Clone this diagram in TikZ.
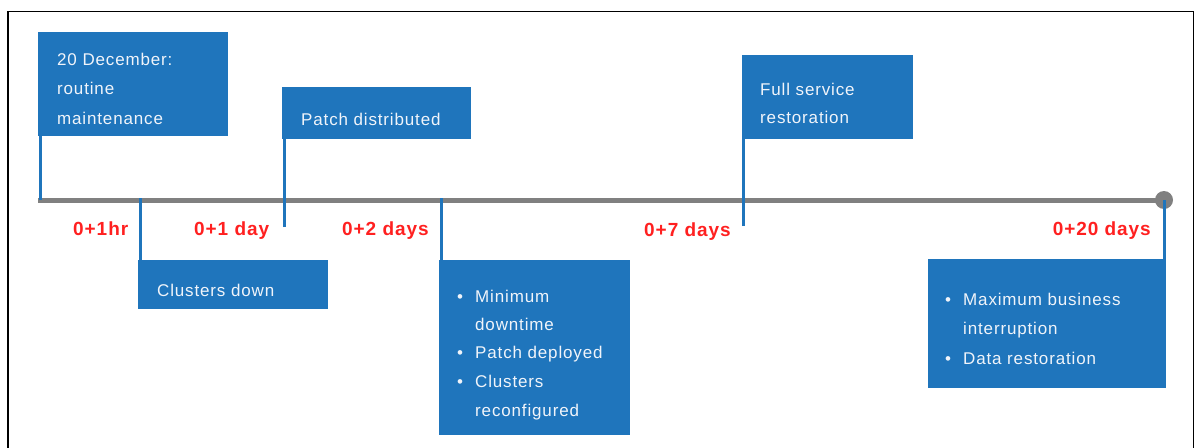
\documentclass[tikz,border=0pt]{standalone}
\usepackage{fontspec}
\setmainfont{Liberation Sans}[LetterSpace=5]
\definecolor{tlblue}{RGB}{31,117,188}
\definecolor{tlgray}{RGB}{128,128,128}
\definecolor{tlred}{RGB}{255,32,32}
\definecolor{tlwhite}{RGB}{240,244,250}
\begin{document}
\begin{tikzpicture}[x=1pt,y=-1pt,
  evbox/.style={fill=tlblue, draw=none, inner sep=0pt, anchor=north west},
  boxtxt/.style={text=tlwhite, font=\fontsize{17}{20}\selectfont, anchor=base west, inner sep=0pt},
  bul/.style={text=tlwhite, font=\fontsize{17}{20}\selectfont, anchor=base west, inner sep=0pt},
  lbl/.style={text=tlred, font=\bfseries\fontsize{19}{22}\selectfont, inner sep=0pt},
  stem/.style={draw=tlblue, line width=3pt},
  axisline/.style={draw=tlgray, line width=5pt},
  frameline/.style={draw=black, line width=1.6pt}]
\useasboundingbox (0,0) rectangle (1199,447);
% frame
\coordinate (fbl) at (8,452);
\coordinate (ftl) at (8,11.5);
\coordinate (ftr) at (1193.5,11.5);
\coordinate (fbr) at (1193.5,452);
\draw[frameline] (fbl) -- (ftl) -- (ftr) -- (fbr);
% boxes
\node[evbox, minimum width=190, minimum height=104] (b1) at (38,32) {};
\node[evbox, minimum width=189, minimum height=52] (b2) at (282,87) {};
\node[evbox, minimum width=190, minimum height=49] (b3) at (138,260) {};
\node[evbox, minimum width=191, minimum height=175] (b4) at (439,260) {};
\node[evbox, minimum width=171, minimum height=84] (b5) at (742,55) {};
\node[evbox, minimum width=238, minimum height=129] (b6) at (928,259) {};
% box texts
\node[boxtxt] (t1a) at (57,65) {20 December:};
\node[boxtxt] (t1b) at (57,94) {routine};
\node[boxtxt] (t1c) at (57,124) {maintenance};
\node[boxtxt] (t2) at (301,125) {Patch distributed};
\node[boxtxt] (t3) at (157,296) {Clusters down};
\node[bul] (u4a) at (457,302) {•};
\node[boxtxt] (t4a) at (475,302) {Minimum};
\node[boxtxt] (t4b) at (475,330) {downtime};
\node[bul] (u4c) at (457,358) {•};
\node[boxtxt] (t4c) at (475,358) {Patch deployed};
\node[bul] (u4d) at (457,387) {•};
\node[boxtxt] (t4d) at (475,387) {Clusters};
\node[boxtxt] (t4e) at (475,416) {reconfigured};
\node[boxtxt] (t5a) at (760,95) {Full service};
\node[boxtxt] (t5b) at (760,123) {restoration};
\node[bul] (u6a) at (945,305) {•};
\node[boxtxt] (t6a) at (963,305) {Maximum business};
\node[boxtxt] (t6b) at (963,334) {interruption};
\node[bul] (u6c) at (945,364) {•};
\node[boxtxt] (t6c) at (963,364) {Data restoration};
% axis
\coordinate (ax0) at (38,200);
\coordinate (ax1) at (1164,200);
\draw[axisline] (ax0) -- (ax1);
\fill[tlgray] (ax1) circle (9);
% stems
\coordinate (e1) at (40,200);
\coordinate (e2) at (140,200);
\coordinate (e3) at (284,227);
\coordinate (e4) at (441,200);
\coordinate (e5) at (743,226);
\coordinate (e6) at (1164,200);
\draw[stem] (e1) -- (e1 |- b1.south);
\draw[stem] ([yshift=2]e2) -- (e2 |- b3.north);
\draw[stem] (e3) -- (e3 |- b2.south);
\draw[stem] ([yshift=2]e4) -- (e4 |- b4.north);
\draw[stem] (e5) -- (e5 |- b5.south);
\draw[stem] (e6) -- (e6 |- b6.north);
% labels
\node[lbl, anchor=base west] (l1) at (73,235) {0+1hr};
\node[lbl, anchor=base west] (l2) at (194,235) {0+1 day};
\node[lbl, anchor=base west] (l3) at (342,235) {0+2 days};
\node[lbl, anchor=base west] (l4) at (644,236) {0+7 days};
\node[lbl, anchor=base east] (l5) at (1151,235) {0+20 days};
\end{tikzpicture}
\end{document}
